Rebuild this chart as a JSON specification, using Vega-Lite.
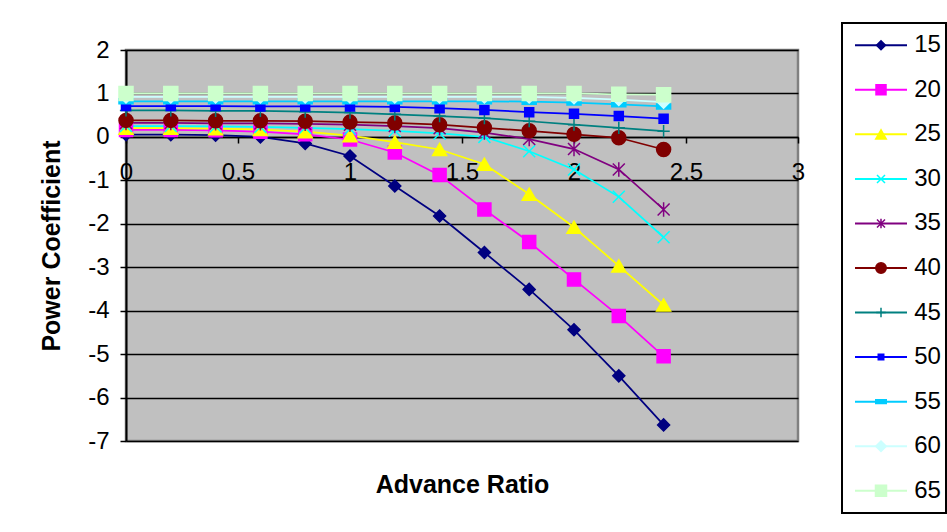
{
  "$schema": "https://vega.github.io/schema/vega-lite/v6.json",
  "background": "white",
  "padding": {"left": 38, "top": 22, "right": 0, "bottom": 6},
  "config": {
    "font": "Liberation Sans",
    "view": {"stroke": null},
    "legend": {"disable": true}
  },
  "datasets": {
    "cp": [
      {"pitch": "15", "j": 0, "cp": 0.05}, {"pitch": "15", "j": 0.2, "cp": 0.05}, {"pitch": "15", "j": 0.4, "cp": 0.04}, {"pitch": "15", "j": 0.6, "cp": 0.0}, {"pitch": "15", "j": 0.8, "cp": -0.15}, {"pitch": "15", "j": 1.0, "cp": -0.44}, {"pitch": "15", "j": 1.2, "cp": -1.13}, {"pitch": "15", "j": 1.4, "cp": -1.82}, {"pitch": "15", "j": 1.6, "cp": -2.66}, {"pitch": "15", "j": 1.8, "cp": -3.51}, {"pitch": "15", "j": 2.0, "cp": -4.44}, {"pitch": "15", "j": 2.2, "cp": -5.5}, {"pitch": "15", "j": 2.4, "cp": -6.63},
      {"pitch": "20", "j": 0, "cp": 0.16}, {"pitch": "20", "j": 0.2, "cp": 0.16}, {"pitch": "20", "j": 0.4, "cp": 0.15}, {"pitch": "20", "j": 0.6, "cp": 0.12}, {"pitch": "20", "j": 0.8, "cp": 0.06}, {"pitch": "20", "j": 1.0, "cp": -0.06}, {"pitch": "20", "j": 1.2, "cp": -0.36}, {"pitch": "20", "j": 1.4, "cp": -0.88}, {"pitch": "20", "j": 1.6, "cp": -1.67}, {"pitch": "20", "j": 1.8, "cp": -2.42}, {"pitch": "20", "j": 2.0, "cp": -3.28}, {"pitch": "20", "j": 2.2, "cp": -4.12}, {"pitch": "20", "j": 2.4, "cp": -5.05},
      {"pitch": "25", "j": 0, "cp": 0.2}, {"pitch": "25", "j": 0.2, "cp": 0.2}, {"pitch": "25", "j": 0.4, "cp": 0.19}, {"pitch": "25", "j": 0.6, "cp": 0.17}, {"pitch": "25", "j": 0.8, "cp": 0.12}, {"pitch": "25", "j": 1.0, "cp": 0.03}, {"pitch": "25", "j": 1.2, "cp": -0.12}, {"pitch": "25", "j": 1.4, "cp": -0.29}, {"pitch": "25", "j": 1.6, "cp": -0.63}, {"pitch": "25", "j": 1.8, "cp": -1.32}, {"pitch": "25", "j": 2.0, "cp": -2.08}, {"pitch": "25", "j": 2.2, "cp": -2.97}, {"pitch": "25", "j": 2.4, "cp": -3.87},
      {"pitch": "30", "j": 0, "cp": 0.25}, {"pitch": "30", "j": 0.2, "cp": 0.25}, {"pitch": "30", "j": 0.4, "cp": 0.24}, {"pitch": "30", "j": 0.6, "cp": 0.23}, {"pitch": "30", "j": 0.8, "cp": 0.21}, {"pitch": "30", "j": 1.0, "cp": 0.18}, {"pitch": "30", "j": 1.2, "cp": 0.14}, {"pitch": "30", "j": 1.4, "cp": 0.08}, {"pitch": "30", "j": 1.6, "cp": 0.0}, {"pitch": "30", "j": 1.8, "cp": -0.33}, {"pitch": "30", "j": 2.0, "cp": -0.75}, {"pitch": "30", "j": 2.2, "cp": -1.38}, {"pitch": "30", "j": 2.4, "cp": -2.31},
      {"pitch": "35", "j": 0, "cp": 0.32}, {"pitch": "35", "j": 0.2, "cp": 0.32}, {"pitch": "35", "j": 0.4, "cp": 0.31}, {"pitch": "35", "j": 0.6, "cp": 0.31}, {"pitch": "35", "j": 0.8, "cp": 0.3}, {"pitch": "35", "j": 1.0, "cp": 0.28}, {"pitch": "35", "j": 1.2, "cp": 0.25}, {"pitch": "35", "j": 1.4, "cp": 0.2}, {"pitch": "35", "j": 1.6, "cp": 0.1}, {"pitch": "35", "j": 1.8, "cp": -0.05}, {"pitch": "35", "j": 2.0, "cp": -0.28}, {"pitch": "35", "j": 2.2, "cp": -0.75}, {"pitch": "35", "j": 2.4, "cp": -1.67},
      {"pitch": "40", "j": 0, "cp": 0.38}, {"pitch": "40", "j": 0.2, "cp": 0.38}, {"pitch": "40", "j": 0.4, "cp": 0.37}, {"pitch": "40", "j": 0.6, "cp": 0.37}, {"pitch": "40", "j": 0.8, "cp": 0.36}, {"pitch": "40", "j": 1.0, "cp": 0.34}, {"pitch": "40", "j": 1.2, "cp": 0.32}, {"pitch": "40", "j": 1.4, "cp": 0.28}, {"pitch": "40", "j": 1.6, "cp": 0.21}, {"pitch": "40", "j": 1.8, "cp": 0.14}, {"pitch": "40", "j": 2.0, "cp": 0.06}, {"pitch": "40", "j": 2.2, "cp": -0.02}, {"pitch": "40", "j": 2.4, "cp": -0.29},
      {"pitch": "45", "j": 0, "cp": 0.61}, {"pitch": "45", "j": 0.2, "cp": 0.61}, {"pitch": "45", "j": 0.4, "cp": 0.6}, {"pitch": "45", "j": 0.6, "cp": 0.6}, {"pitch": "45", "j": 0.8, "cp": 0.58}, {"pitch": "45", "j": 1.0, "cp": 0.56}, {"pitch": "45", "j": 1.2, "cp": 0.52}, {"pitch": "45", "j": 1.4, "cp": 0.48}, {"pitch": "45", "j": 1.6, "cp": 0.43}, {"pitch": "45", "j": 1.8, "cp": 0.36}, {"pitch": "45", "j": 2.0, "cp": 0.28}, {"pitch": "45", "j": 2.2, "cp": 0.21}, {"pitch": "45", "j": 2.4, "cp": 0.13},
      {"pitch": "50", "j": 0, "cp": 0.71}, {"pitch": "50", "j": 0.2, "cp": 0.71}, {"pitch": "50", "j": 0.4, "cp": 0.71}, {"pitch": "50", "j": 0.6, "cp": 0.7}, {"pitch": "50", "j": 0.8, "cp": 0.7}, {"pitch": "50", "j": 1.0, "cp": 0.7}, {"pitch": "50", "j": 1.2, "cp": 0.69}, {"pitch": "50", "j": 1.4, "cp": 0.66}, {"pitch": "50", "j": 1.6, "cp": 0.62}, {"pitch": "50", "j": 1.8, "cp": 0.57}, {"pitch": "50", "j": 2.0, "cp": 0.53}, {"pitch": "50", "j": 2.2, "cp": 0.48}, {"pitch": "50", "j": 2.4, "cp": 0.42},
      {"pitch": "55", "j": 0, "cp": 0.82}, {"pitch": "55", "j": 0.2, "cp": 0.82}, {"pitch": "55", "j": 0.4, "cp": 0.82}, {"pitch": "55", "j": 0.6, "cp": 0.82}, {"pitch": "55", "j": 0.8, "cp": 0.82}, {"pitch": "55", "j": 1.0, "cp": 0.82}, {"pitch": "55", "j": 1.2, "cp": 0.82}, {"pitch": "55", "j": 1.4, "cp": 0.82}, {"pitch": "55", "j": 1.6, "cp": 0.82}, {"pitch": "55", "j": 1.8, "cp": 0.81}, {"pitch": "55", "j": 2.0, "cp": 0.79}, {"pitch": "55", "j": 2.2, "cp": 0.75}, {"pitch": "55", "j": 2.4, "cp": 0.7},
      {"pitch": "60", "j": 0, "cp": 0.92}, {"pitch": "60", "j": 0.2, "cp": 0.92}, {"pitch": "60", "j": 0.4, "cp": 0.92}, {"pitch": "60", "j": 0.6, "cp": 0.92}, {"pitch": "60", "j": 0.8, "cp": 0.92}, {"pitch": "60", "j": 1.0, "cp": 0.92}, {"pitch": "60", "j": 1.2, "cp": 0.92}, {"pitch": "60", "j": 1.4, "cp": 0.92}, {"pitch": "60", "j": 1.6, "cp": 0.92}, {"pitch": "60", "j": 1.8, "cp": 0.92}, {"pitch": "60", "j": 2.0, "cp": 0.9}, {"pitch": "60", "j": 2.2, "cp": 0.86}, {"pitch": "60", "j": 2.4, "cp": 0.8},
      {"pitch": "65", "j": 0, "cp": 1.0}, {"pitch": "65", "j": 0.2, "cp": 1.0}, {"pitch": "65", "j": 0.4, "cp": 1.0}, {"pitch": "65", "j": 0.6, "cp": 1.0}, {"pitch": "65", "j": 0.8, "cp": 1.0}, {"pitch": "65", "j": 1.0, "cp": 1.0}, {"pitch": "65", "j": 1.2, "cp": 1.0}, {"pitch": "65", "j": 1.4, "cp": 1.0}, {"pitch": "65", "j": 1.6, "cp": 1.0}, {"pitch": "65", "j": 1.8, "cp": 1.0}, {"pitch": "65", "j": 2.0, "cp": 1.0}, {"pitch": "65", "j": 2.2, "cp": 0.98}, {"pitch": "65", "j": 2.4, "cp": 0.97}
    ]
  },
  "data": {"name": "cp"},
  "spacing": 35,
  "resolve": {"scale": {"size": "independent"}},
  "hconcat": [
    {
      "spacing": 12,
      "vconcat": [
        {
          "width": 1,
          "height": 1,
          "data": {"values": []},
          "mark": "point"
        },
        {
          "width": 672,
          "height": 391,
          "view": {"fill": "#C0C0C0", "stroke": "#808080", "strokeWidth": 2.5},
          "encoding": {
            "x": {
              "field": "j",
              "type": "quantitative",
              "scale": {"domain": [0, 3], "nice": false, "zero": false},
              "axis": {
                "title": "Advance Ratio",
                "values": [0, 0.5, 1, 1.5, 2, 2.5, 3],
                "labelExpr": "'' + datum.value",
                "orient": "bottom",
                "offset": -304,
                "grid": false,
                "domainColor": "black",
                "domainWidth": 1.5,
                "tickColor": "black",
                "tickWidth": 1.5,
                "tickSize": 6,
                "labelPadding": 17,
                "labelFontSize": 24,
                "labelColor": "black",
                "labelFlush": false,
                "labelOverlap": false,
                "titleFontSize": 25,
                "titleFontWeight": "bold",
                "titleColor": "black",
                "titleY": 335,
                "titleBaseline": "top"
              }
            },
            "y": {
              "field": "cp",
              "type": "quantitative",
              "scale": {"domain": [-7, 2], "nice": false, "zero": false},
              "axis": {
                "title": "Power Coefficient",
                "values": [-7, -6, -5, -4, -3, -2, -1, 0, 1, 2],
                "labelExpr": "'' + datum.value",
                "grid": true,
                "gridColor": "black",
                "gridWidth": 1.5,
                "domainColor": "black",
                "domainWidth": 2,
                "tickColor": "black",
                "tickWidth": 1.5,
                "tickSize": 6,
                "labelPadding": 11,
                "labelFontSize": 24,
                "labelColor": "black",
                "labelFlush": false,
                "labelOverlap": false,
                "titleFontSize": 25,
                "titleFontWeight": "bold",
                "titleColor": "black",
                "titlePadding": 23
              }
            }
          },
          "layer": [
            {
              "mark": {"type": "line", "strokeWidth": 1.75},
              "encoding": {
                "color": {
                  "field": "pitch",
                  "type": "nominal",
                  "legend": null,
                  "scale": {
                    "domain": ["15", "20", "25", "30", "35", "40", "45", "50", "55", "60", "65"],
                    "range": ["#000080", "#FF00FF", "#FFFF00", "#00FFFF", "#800080", "#800000", "#008080", "#0000FF", "#00CCFF", "#CCFFFF", "#CCFFCC"]
                  }
                },
                "order": {"field": "j"}
              }
            },
            {
              "mark": {"type": "point", "filled": true, "opacity": 1, "strokeWidth": 1.5},
              "encoding": {
                "color": {"field": "pitch", "type": "nominal", "legend": null},
                "stroke": {
                  "field": "pitch",
                  "type": "nominal",
                  "legend": null,
                  "scale": {
                    "domain": ["15", "20", "25", "30", "35", "40", "45", "50", "55", "60", "65"],
                    "range": ["#000080", "#FF00FF", "#FFFF00", "#00FFFF", "#800080", "#800000", "#008080", "#0000FF", "#00CCFF", "#CCFFFF", "#CCFFCC"]
                  }
                },
                "shape": {
                  "field": "pitch",
                  "type": "nominal",
                  "legend": null,
                  "scale": {
                    "domain": ["15", "20", "25", "30", "35", "40", "45", "50", "55", "60", "65"],
                    "range": ["diamond", "square", "triangle-up", "M-1,-1L1,1M-1,1L1,-1", "M-1,-1L1,1M-1,1L1,-1M0,-1.2L0,1.2", "circle", "M-1,0L1,0M0,-1L0,1", "square", "M-1,-0.35L1,-0.35L1,0.35L-1,0.35Z", "diamond", "square"]
                  }
                },
                "size": {
                  "field": "pitch",
                  "type": "nominal",
                  "legend": null,
                  "scale": {
                    "type": "ordinal",
                    "domain": ["15", "20", "25", "30", "35", "40", "45", "50", "55", "60", "65"],
                    "range": [144, 169, 196, 144, 144, 196, 150, 81, 196, 144, 196]
                  }
                }
              }
            }
          ]
        }
      ]
    },
    {
      "width": 104,
      "height": 490,
      "view": {"fill": "white", "stroke": "black", "strokeWidth": 2},
      "transform": [{"aggregate": [{"op": "count", "as": "n"}], "groupby": ["pitch"]}],
      "encoding": {
        "y": {"field": "pitch", "type": "ordinal", "scale": {"type": "point", "padding": 0.5}, "axis": null}
      },
      "layer": [
        {
          "mark": {"type": "rule", "strokeWidth": 2},
          "encoding": {
            "x": {"datum": 1, "type": "quantitative", "scale": {"domain": [0, 8], "nice": false, "zero": false}, "axis": null},
            "x2": {"datum": 5},
            "color": {"field": "pitch", "type": "nominal", "legend": null}
          }
        },
        {
          "mark": {"type": "point", "filled": true, "opacity": 1, "strokeWidth": 1.5},
          "encoding": {
            "x": {"datum": 3, "type": "quantitative"},
            "color": {"field": "pitch", "type": "nominal", "legend": null},
            "stroke": {"field": "pitch", "type": "nominal", "legend": null},
            "shape": {"field": "pitch", "type": "nominal", "legend": null},
            "size": {
              "field": "pitch",
              "type": "nominal",
              "legend": null,
              "scale": {
                "type": "ordinal",
                "domain": ["15", "20", "25", "30", "35", "40", "45", "50", "55", "60", "65"],
                "range": [81, 100, 110, 64, 64, 110, 90, 30, 110, 110, 121]
              }
            }
          }
        },
        {
          "mark": {"type": "text", "align": "left", "baseline": "middle", "fontSize": 24, "color": "black"},
          "encoding": {
            "x": {"datum": 5.55, "type": "quantitative"},
            "text": {"field": "pitch", "type": "nominal"}
          }
        }
      ]
    }
  ]
}
